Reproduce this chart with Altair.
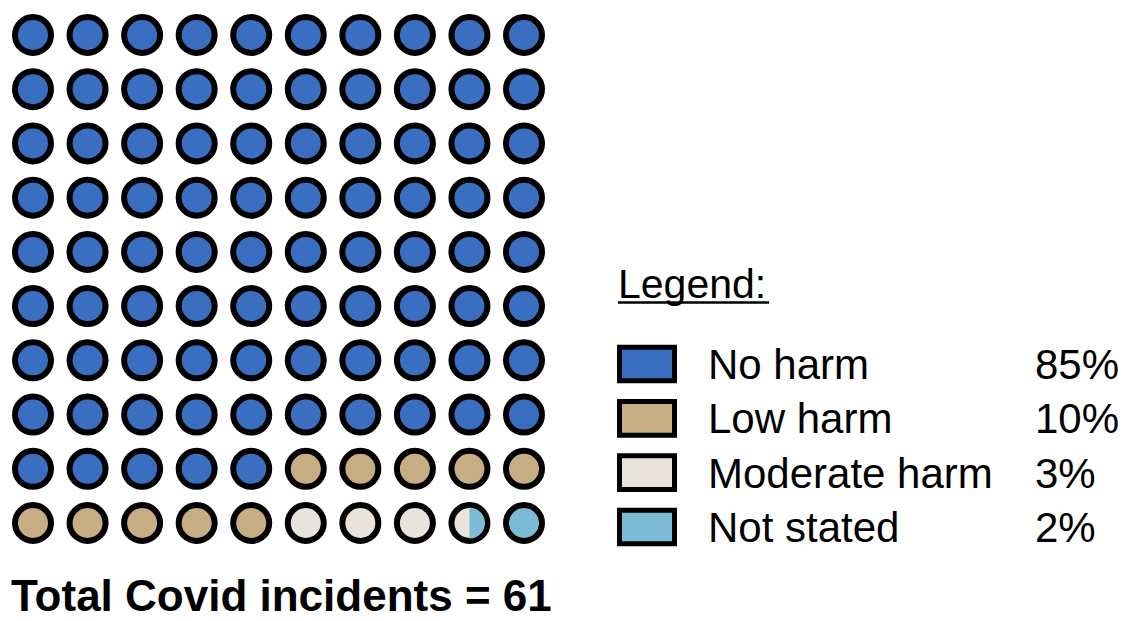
import altair as alt
import pandas as pd

# ---- data ----
categories = ["No harm", "Low harm", "Moderate harm", "Not stated"]
waffle_counts = [85, 10, 3.5, 1.5]          # circles of the 10x10 grid per category
percent_labels = ["85%", "10%", "3%", "2%"]
colors = ["#3a6ec0", "#c6ad84", "#e8e4dc", "#7bbbd6"]
total_label = "Total Covid incidents = 61"
n_cols = 10
n_rows = 10

# ---- build waffle cells from counts ----
bounds = []
acc = 0.0
for c, n in zip(categories, waffle_counts):
    bounds.append((c, acc, acc + n))
    acc += n

cells = []
splits = []
for i in range(n_cols * n_rows):
    lo, hi = i, i + 1
    inside = [(c, a, b) for (c, a, b) in bounds if a < hi and b > lo]
    cat = inside[0][0]
    cells.append({"col": i % n_cols, "row": i // n_cols, "category": cat})
    if len(inside) > 1:
        splits.append({"col": i % n_cols, "row": i // n_cols, "category": inside[1][0]})

cells_df = pd.DataFrame(cells)
splits_df = pd.DataFrame(splits)
legend_df = pd.DataFrame({"category": categories, "pct": percent_labels, "idx": list(range(len(categories)))})

color_scale = alt.Scale(domain=categories, range=colors)
xs = alt.Scale(domain=[0, 9], range=[33, 524])
ys = alt.Scale(domain=[0, 9], range=[35, 523])

circles = alt.Chart(cells_df).mark_point(
    shape="circle", filled=True, size=1296, stroke="black", strokeWidth=6, opacity=1, strokeOpacity=1
).encode(
    x=alt.X("col:Q", scale=xs, axis=None),
    y=alt.Y("row:Q", scale=ys, axis=None),
    fill=alt.Fill("category:N", scale=color_scale, legend=None),
)

halves = alt.Chart(splits_df).mark_arc(radius=15.5, theta=0, theta2=3.14159).encode(
    x=alt.X("col:Q", scale=xs, axis=None),
    y=alt.Y("row:Q", scale=ys, axis=None),
    fill=alt.Fill("category:N", scale=color_scale, legend=None),
)

ly = alt.Scale(domain=[0, 3], range=[364, 527])

swatches = alt.Chart(legend_df).transform_calculate(
    y0="datum.idx - 0.31", y1="datum.idx + 0.31"
).mark_rect(stroke="black", strokeWidth=5).encode(
    x=alt.value(619.5),
    x2=alt.value(674.5),
    y=alt.Y("y0:Q", scale=ly, axis=None),
    y2="y1:Q",
    fill=alt.Fill("category:N", scale=color_scale, legend=None),
)

labels = alt.Chart(legend_df).mark_text(
    align="left", baseline="alphabetic", dy=15, font="Liberation Sans", fontSize=42, color="black"
).encode(
    x=alt.value(708),
    y=alt.Y("idx:Q", scale=ly, axis=None),
    text="category:N",
)

pcts = alt.Chart(legend_df).mark_text(
    align="left", baseline="alphabetic", dy=15, font="Liberation Sans", fontSize=42, color="black"
).encode(
    x=alt.value(1035),
    y=alt.Y("idx:Q", scale=ly, axis=None),
    text="pct:N",
)

legend_title = alt.Chart(pd.DataFrame({"t": ["Legend:"]})).mark_text(
    align="left", baseline="alphabetic", font="Liberation Sans", fontSize=41, color="black"
).encode(x=alt.value(618), y=alt.value(298), text="t:N")

underline = alt.Chart(pd.DataFrame({"t": ["Legend:"]})).mark_rule(
    color="black", strokeWidth=2.5
).encode(x=alt.value(618), x2=alt.value(769), y=alt.value(302.5))

total = alt.Chart(pd.DataFrame({"t": [total_label]})).mark_text(
    align="left", baseline="alphabetic", font="Liberation Sans", fontSize=44, fontWeight="bold", color="black"
).encode(x=alt.value(11), y=alt.value(611), text="t:N")

chart = alt.layer(
    circles, halves, swatches, labels, pcts, legend_title, underline, total
).resolve_scale(
    x="independent", y="independent"
).properties(
    width=1144, height=621, padding=0, autosize=alt.AutoSizeParams(type="none"), background="white"
).configure_view(stroke=None)

chart.save("out.html", embed_options={"renderer": "svg", "actions": False})
